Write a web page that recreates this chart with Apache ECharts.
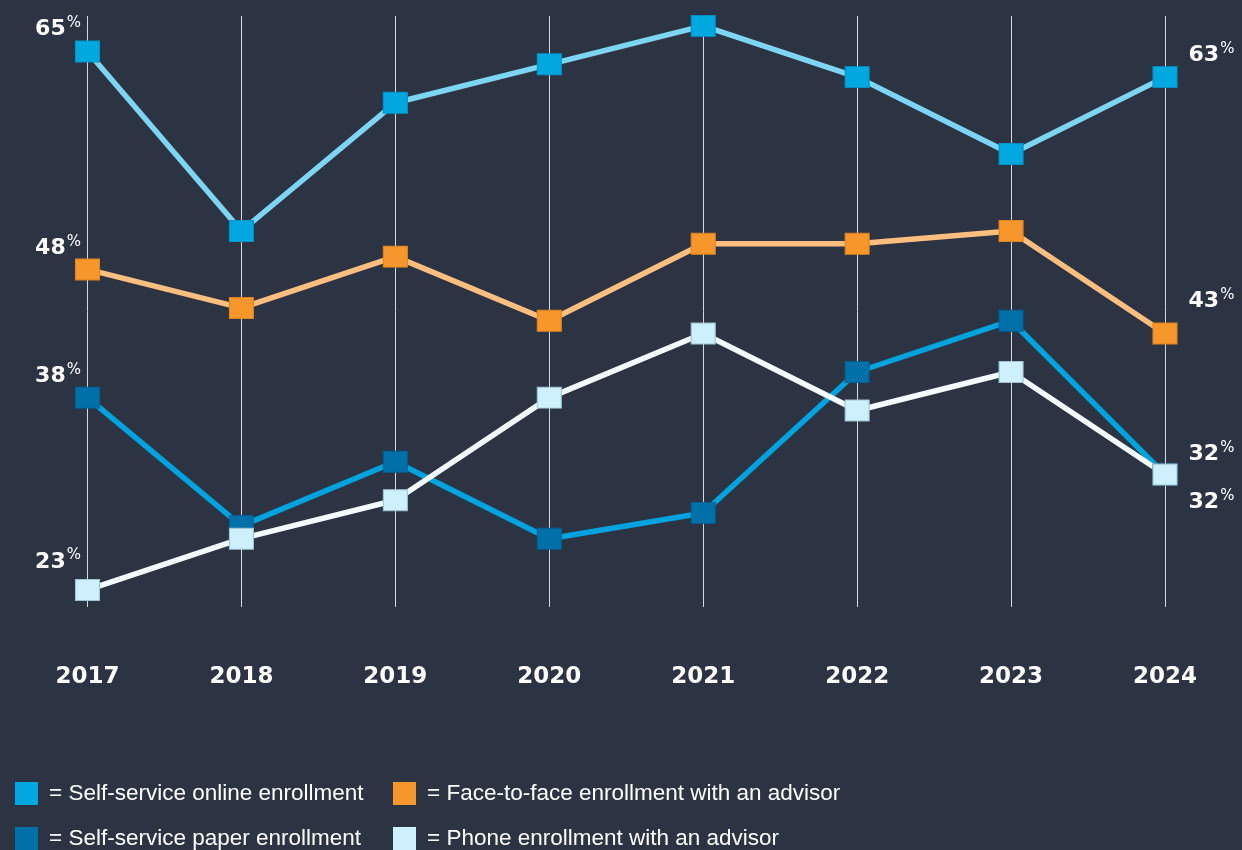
<!DOCTYPE html>
<html>
<head>
<meta charset="utf-8">
<script src="https://cdn.jsdelivr.net/npm/echarts@6/dist/echarts.min.js"></script>
<style>
  html, body { margin: 0; padding: 0; background: #2c3444; }
  #chart { width: 1242px; height: 850px; }
</style>
</head>
<body>
<div id="chart"></div>
<script>
const years = ['2017', '2018', '2019', '2020', '2021', '2022', '2023', '2024'];
const onlineValues = [65, 51, 61, 64, 67, 63, 57, 63];
const faceValues = [48, 45, 49, 44, 50, 50, 51, 43];
const paperValues = [38, 28, 33, 27, 29, 40, 44, 32];
const phoneValues = [23, 27, 30, 38, 43, 37, 40, 32];
const seriesNames = [
  'Self-service online enrollment',
  'Face-to-face enrollment with an advisor',
  'Self-service paper enrollment',
  'Phone enrollment with an advisor'
];

var chartDom = document.getElementById('chart');
var myChart = echarts.init(chartDom);

const numFont = '"DejaVu Sans", sans-serif';
const legendFont = '"Liberation Sans Narrow", "Arial Narrow", "Liberation Sans", sans-serif';
const rich = {
  v: { fontSize: 22, fontWeight: 'bold', color: '#ffffff', fontFamily: numFont, lineHeight: 28 },
  p: { fontSize: 15, color: '#ffffff', fontFamily: numFont, lineHeight: 15, verticalAlign: 'top', padding: [0, 0, 0, 1] }
};

// end labels: first point on the left, last point on the right
function withEndLabels(values, leftDy, rightDy) {
  const last = values.length - 1;
  return values.map((v, i) => {
    if (i === 0) {
      return { value: v, label: { show: true, position: 'left', distance: 0, offset: [6, leftDy] } };
    }
    if (i === last) {
      return { value: v, label: { show: true, position: 'right', distance: 11, offset: [0, rightDy] } };
    }
    return v;
  });
}

function makeSeries(name, values, lineColor, markColor, borderColor, leftDy, rightDy) {
  return {
    name: name,
    type: 'line',
    data: withEndLabels(values, leftDy, rightDy),
    symbol: 'rect',
    symbolSize: [24, 21],
    showAllSymbol: true,
    lineStyle: { color: lineColor, width: 5.5 },
    itemStyle: { color: markColor, borderColor: borderColor, borderWidth: 1 },
    label: {
      show: false,
      formatter: p => '{v|' + p.value + '}{p|%}',
      rich: rich
    },
    emphasis: { disabled: true },
    animation: false
  };
}

function makeLegend(left, names, colors) {
  return {
    orient: 'vertical',
    left: left,
    top: 782,
    height: 120,
    padding: 0,
    icon: 'rect',
    itemWidth: 23,
    itemHeight: 23,
    itemGap: 22,
    selectedMode: false,
    data: names.map((n, i) => ({ name: n, itemStyle: { color: colors[i], borderWidth: 0 } })),
    formatter: n => '= ' + n,
    textStyle: { color: '#ffffff', fontSize: 22.5, fontFamily: legendFont, padding: [0, 0, 0, 6] }
  };
}

var option = {
  backgroundColor: '#2c3444',
  grid: { left: 87.5, right: 77, top: 16, bottom: 243 },
  xAxis: {
    type: 'category',
    data: years,
    boundaryGap: false,
    axisLine: { show: false },
    axisTick: { show: false },
    axisLabel: {
      interval: 0,
      margin: 59,
      color: '#ffffff',
      fontSize: 23,
      fontWeight: 'bold',
      fontFamily: numFont
    },
    splitLine: { show: true, interval: 0, lineStyle: { color: '#d5d9de', width: 1 } }
  },
  yAxis: {
    type: 'value',
    min: 21.67,
    max: 67.77,
    show: false,
    splitLine: { show: false }
  },
  legend: [
    makeLegend(15, [seriesNames[0], seriesNames[2]], ['#00a8e0', '#0070a8']),
    makeLegend(393, [seriesNames[1], seriesNames[3]], ['#f7962b', '#cdf0fc'])
  ],
  series: [
    makeSeries(seriesNames[0], onlineValues, '#7dd4f3', '#00a8e0', '#0093cc', -22, -22),
    makeSeries(seriesNames[1], faceValues, '#fdbe7f', '#f7962b', '#e08420', -21, -32),
    makeSeries(seriesNames[2], paperValues, '#00a3dd', '#0070a8', '#005f92', -21, -20),
    makeSeries(seriesNames[3], phoneValues, '#f3fbff', '#cdf0fc', '#9fc3d3', -28, 28)
  ]
};

option && myChart.setOption(option);
</script>
</body>
</html>
